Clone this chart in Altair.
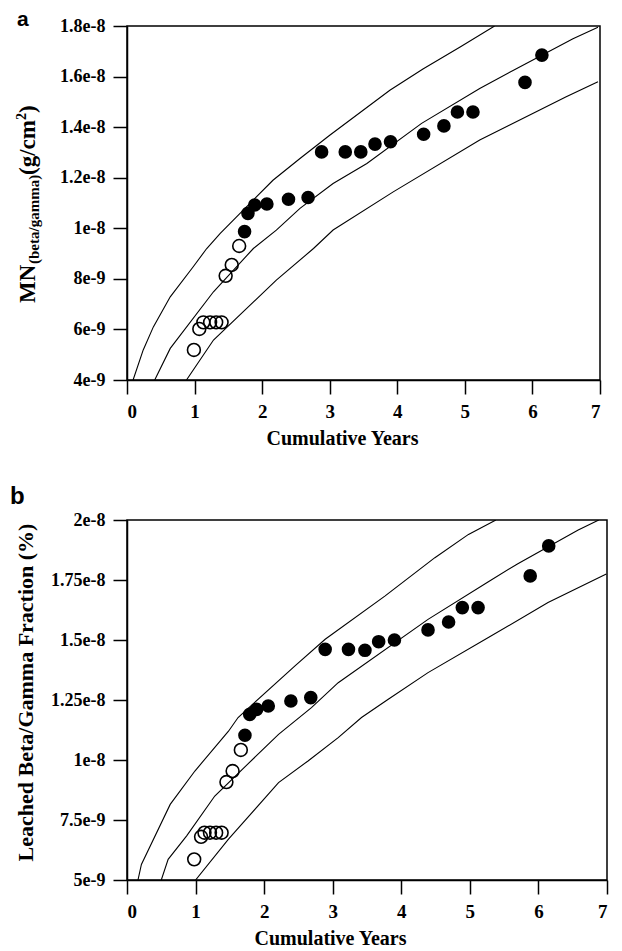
import altair as alt
import pandas as pd

SERIF = "Liberation Serif"
SANS = "Liberation Sans"

years_ticks = [0, 1, 2, 3, 4, 5, 6, 7]

# ---------------- Panel a: MN(beta/gamma) (g/cm^2) ----------------
a_open_x = [0.99, 1.07, 1.13, 1.23, 1.32, 1.40, 1.46, 1.55, 1.66]
a_open_y = [5.19e-9, 6.02e-9, 6.28e-9, 6.28e-9, 6.28e-9, 6.28e-9, 8.12e-9, 8.55e-9, 9.30e-9]
a_fill_x = [1.74, 1.79, 1.89, 2.07, 2.39, 2.68, 2.88, 3.23, 3.46, 3.67, 3.90, 4.39, 4.69, 4.89, 5.12, 5.89, 6.14]
a_fill_y = [9.87e-9, 10.59e-9, 10.92e-9, 10.96e-9, 11.15e-9, 11.22e-9, 13.02e-9, 13.02e-9, 13.02e-9,
            13.33e-9, 13.42e-9, 13.72e-9, 14.05e-9, 14.6e-9, 14.6e-9, 15.77e-9, 16.85e-9]

a_upper_x = [0.09, 0.24, 0.39, 0.64, 0.98, 1.18, 1.38, 2.16, 2.56, 3.0, 3.89, 4.38, 4.93, 5.44]
a_upper_y = [4.0e-9, 5.19e-9, 6.1e-9, 7.29e-9, 8.48e-9, 9.2e-9, 9.8e-9, 11.9e-9, 12.76e-9, 13.68e-9,
             15.46e-9, 16.3e-9, 17.17e-9, 18.0e-9]
a_mid_x = [0.41, 0.64, 1.28, 1.87, 2.21, 2.56, 3.05, 3.55, 4.36, 5.22, 5.72, 6.6, 6.97]
a_mid_y = [4.0e-9, 5.25e-9, 7.49e-9, 9.2e-9, 9.93e-9, 10.79e-9, 11.77e-9, 12.56e-9, 14.15e-9,
           15.53e-9, 16.25e-9, 17.5e-9, 17.95e-9]
a_low_x = [0.88, 1.28, 2.21, 2.76, 3.05, 3.94, 5.22, 6.5, 6.97]
a_low_y = [4.0e-9, 5.58e-9, 7.95e-9, 9.2e-9, 9.93e-9, 11.44e-9, 13.49e-9, 15.2e-9, 15.8e-9]

a_yticks = [4e-9, 6e-9, 8e-9, 1e-8, 1.2e-8, 1.4e-8, 1.6e-8, 1.8e-8]

# ---------------- Panel b: Leached Beta/Gamma Fraction ----------------
b_open_x = [0.98, 1.08, 1.13, 1.21, 1.30, 1.38, 1.45, 1.54, 1.66]
b_open_y = [5.86e-9, 6.8e-9, 6.97e-9, 6.97e-9, 6.97e-9, 6.97e-9, 9.08e-9, 9.54e-9, 10.42e-9]
b_fill_x = [1.72, 1.79, 1.89, 2.06, 2.39, 2.68, 2.89, 3.23, 3.47, 3.67, 3.90, 4.39, 4.69, 4.89, 5.12, 5.88, 6.15]
b_fill_y = [11.03e-9, 11.9e-9, 12.11e-9, 12.25e-9, 12.46e-9, 12.6e-9, 14.61e-9, 14.61e-9, 14.57e-9,
            14.93e-9, 15.0e-9, 15.42e-9, 15.75e-9, 16.35e-9, 16.35e-9, 17.67e-9, 18.92e-9]

b_upper_x = [0.16, 0.21, 0.63, 0.99, 1.48, 1.62, 2.45, 2.89, 3.76, 4.49, 4.98, 5.38]
b_upper_y = [5.0e-9, 5.65e-9, 8.15e-9, 9.54e-9, 11.2e-9, 11.77e-9, 13.92e-9, 15.03e-9, 16.83e-9,
             18.43e-9, 19.4e-9, 20.0e-9]
b_mid_x = [0.50, 0.60, 0.87, 1.28, 2.21, 2.69, 3.08, 4.39, 5.27, 5.70, 6.58, 6.88]
b_mid_y = [5.0e-9, 5.86e-9, 6.84e-9, 8.5e-9, 11.07e-9, 12.18e-9, 13.22e-9, 15.86e-9, 17.43e-9,
           18.18e-9, 19.58e-9, 20.0e-9]
b_low_x = [1.0, 1.48, 2.21, 2.64, 3.08, 3.42, 3.81, 4.39, 5.27, 6.14, 6.99]
b_low_y = [5.0e-9, 6.7e-9, 9.06e-9, 9.96e-9, 10.93e-9, 11.77e-9, 12.53e-9, 13.64e-9, 15.1e-9,
           16.56e-9, 17.75e-9]

b_yticks = [5e-9, 7.5e-9, 1e-8, 1.25e-8, 1.5e-8, 1.75e-8, 2e-8]


def curves_frame(curves):
    rows = []
    for name, (xs, ys) in curves.items():
        for x, y in zip(xs, ys):
            rows.append({"x": x, "y": y, "curve": name})
    return pd.DataFrame(rows)


def txt(text, x, y, size, font=SERIF, angle=270):
    return alt.Chart(pd.DataFrame({"t": [text]})).mark_text(
        font=font, fontSize=size, fontWeight="bold", angle=angle,
        align="left", baseline="alphabetic", color="black"
    ).encode(x=alt.value(x), y=alt.value(y), text="t:N")


def panel(open_x, open_y, fill_x, fill_y, curves, ydom, yticks, width, height,
          ytitle, title_x, extra):
    if ytitle is None:
        yaxis = alt.Axis(values=yticks, format=".2~e", title=None)
    else:
        yaxis = alt.Axis(values=yticks, format=".2~e", title=ytitle,
                         titleFontSize=22, titlePadding=13, titleY=172)
    X = alt.X("x:Q", scale=alt.Scale(domain=[0, 7], nice=False, zero=False),
              axis=alt.Axis(values=years_ticks, title="Cumulative Years",
                            titleX=title_x, titleFontSize=20, titlePadding=7))
    Y = alt.Y("y:Q", scale=alt.Scale(domain=ydom, nice=False, zero=False), axis=yaxis)

    lines = alt.Chart(curves_frame(curves)).mark_line(
        color="black", strokeWidth=1.1, clip=True
    ).encode(x=X, y=Y, detail="curve:N")
    opens = alt.Chart(pd.DataFrame({"x": open_x, "y": open_y})).mark_point(
        shape="circle", filled=False, color="black", strokeWidth=1.6, size=165, opacity=1
    ).encode(x=X, y=Y)
    fills = alt.Chart(pd.DataFrame({"x": fill_x, "y": fill_y})).mark_circle(
        color="black", size=185, opacity=1
    ).encode(x=X, y=Y)
    return alt.layer(lines, opens, fills, *extra).properties(width=width, height=height)


extra_a = [
    txt("a", -110, 0, 21, font=SANS, angle=0),
    txt("MN", -92, 277, 23),
    txt("(beta/gamma)", -88, 238, 15),
    txt("(g/cm", -92, 149, 23),
    txt("2", -101, 94, 14),
    txt(")", -92, 87, 23),
]
extra_b = [
    txt("b", -117, -16, 24, font=SANS, angle=0),
]

pa = panel(a_open_x, a_open_y, a_fill_x, a_fill_y,
           {"upper": (a_upper_x, a_upper_y), "mid": (a_mid_x, a_mid_y), "low": (a_low_x, a_low_y)},
           [4e-9, 1.8e-8], a_yticks, 473, 354, None, 215, extra_a)
pb = panel(b_open_x, b_open_y, b_fill_x, b_fill_y,
           {"upper": (b_upper_x, b_upper_y), "mid": (b_mid_x, b_mid_y), "low": (b_low_x, b_low_y)},
           [5e-9, 2e-8], b_yticks, 480, 360, "Leached Beta/Gamma Fraction (%)", 203, extra_b)

chart = alt.concat(pa, pb, columns=1, spacing=35, align="none").properties(
    padding={"left": 1, "top": 0, "right": 5, "bottom": 2}
).configure_view(
    stroke="black", strokeWidth=1.5
).configure_axis(
    labelFont=SERIF, labelFontWeight="bold", labelColor="black",
    titleFont=SERIF, titleFontWeight="bold", titleColor="black",
    domainColor="black", tickColor="black", domainWidth=1.5, tickWidth=1.5,
    tickSize=14, labelPadding=8, grid=False
).configure_axisX(labelFontSize=19).configure_axisY(labelFontSize=18)

chart.save("out.html", embed_options={"renderer": "svg", "actions": False})
